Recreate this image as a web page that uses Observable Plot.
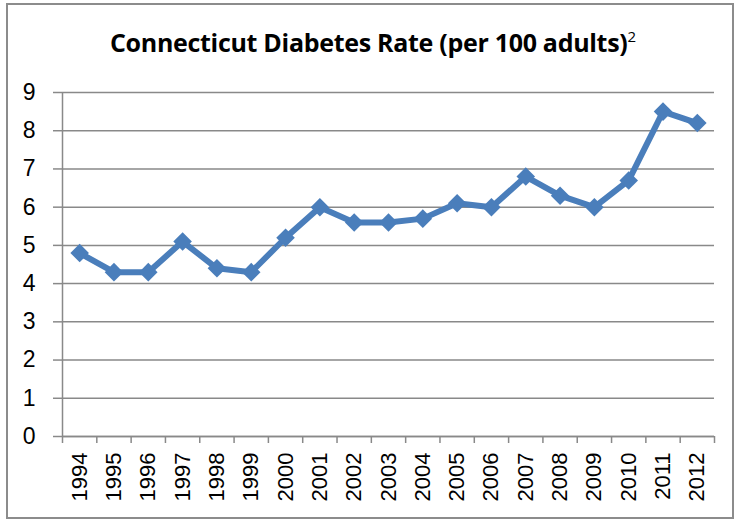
<!DOCTYPE html>
<html>
<head>
<meta charset="utf-8">
<script src="https://cdn.jsdelivr.net/npm/d3@7"></script>
<script src="https://cdn.jsdelivr.net/npm/@observablehq/plot@0.6"></script>
<style>
  html, body { margin: 0; padding: 0; background: #fff; }
  #wrap { position: relative; width: 734px; height: 520px; overflow: hidden; }
  #frame { position: absolute; left: 6px; top: 3px; width: 724px; height: 512px; border: 2px solid #8c8c8c; box-sizing: content-box; }
  #title { position: absolute; left: 0; top: 28px; width: 746px; text-align: center; font-family: "Open Sans", sans-serif; font-weight: 700; font-size: 25px; color: #000; line-height: 28px; letter-spacing: -0.3px; white-space: nowrap; }
  #title sup { font-weight: 400; font-size: 15px; vertical-align: 10px; line-height: 0; letter-spacing: 0; }
  #chart { position: absolute; left: 0; top: 70px; }
</style>
</head>
<body>
<div id="wrap">
  <div id="frame"></div>
  <div id="title">Connecticut Diabetes Rate (per 100 adults)<sup>2</sup></div>
  <div id="chart"></div>
</div>
<script>
const years = [1994, 1995, 1996, 1997, 1998, 1999, 2000, 2001, 2002, 2003, 2004, 2005, 2006, 2007, 2008, 2009, 2010, 2011, 2012];
const rates = [4.8, 4.3, 4.3, 5.1, 4.4, 4.3, 5.2, 6.0, 5.6, 5.6, 5.7, 6.1, 6.0, 6.8, 6.3, 6.0, 6.7, 8.5, 8.2];
const yTicks = [0, 1, 2, 3, 4, 5, 6, 7, 8, 9];

const data = years.map((year, i) => ({year, rate: rates[i]}));
const boundaries = years.map(y => y - 0.5).concat([years[years.length - 1] + 0.5]);

const grid = "#898989";
const blue = "#4A7EBB";

const chart = Plot.plot({
  width: 734,
  height: 450,
  marginTop: 22,
  marginBottom: 84,
  marginLeft: 62,
  marginRight: 20,
  style: {fontFamily: "'Liberation Sans', Arial, sans-serif", color: "#000", background: "transparent"},
  x: {domain: [boundaries[0], boundaries[boundaries.length - 1]]},
  y: {domain: [0, 9]},
  marks: [
    Plot.gridY(yTicks, {stroke: grid, strokeOpacity: 1, strokeWidth: 1.5}),
    Plot.axisY(yTicks, {tickSize: 9, tickPadding: 18, stroke: grid, strokeWidth: 1.5, strokeOpacity: 1, fontSize: 23, fill: "#000", label: null}),
    Plot.axisX(boundaries, {tickSize: 7, stroke: grid, strokeWidth: 1.5, strokeOpacity: 1, tickFormat: () => "", label: null}),
    Plot.axisX(years, {tickSize: 0, tickPadding: 16, tickRotate: -90, fontSize: 22, fill: "#000", tickFormat: d => String(d), label: null}),
    Plot.ruleX([boundaries[0]], {stroke: grid, strokeWidth: 1.5}),
    Plot.ruleY([0], {stroke: grid, strokeWidth: 1.5}),
    Plot.line(data, {x: "year", y: "rate", stroke: blue, strokeWidth: 6, strokeLinejoin: "round"}),
    Plot.dot(data, {x: "year", y: "rate", symbol: "square", r: 7.4, rotate: 45, fill: blue, stroke: "none"})
  ]
});
document.getElementById("chart").appendChild(chart);
</script>
</body>
</html>
